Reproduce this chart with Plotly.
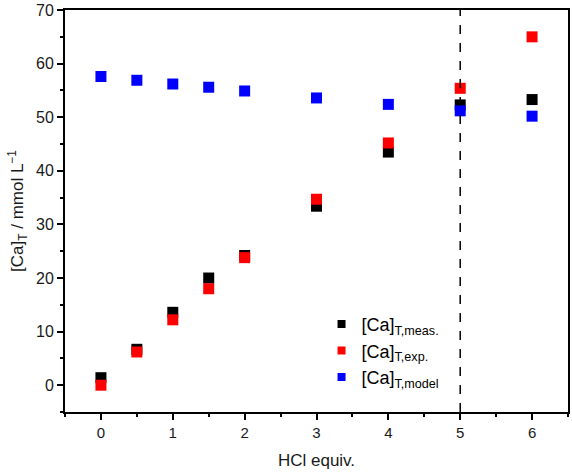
import plotly.graph_objects as go

hcl_equiv = [0, 0.5, 1, 1.5, 2, 3, 4, 5, 6]
ca_meas = [1.4, 6.7, 13.6, 20.0, 24.2, 33.4, 43.5, 52.3, 53.3]
ca_exp = [0.0, 6.2, 12.2, 18.0, 23.8, 34.7, 45.2, 55.4, 65.0]
ca_model = [57.6, 56.9, 56.2, 55.6, 54.9, 53.6, 52.4, 51.2, 50.2]
vline_x = 5

names = ["[Ca]<sub>T,meas.</sub>", "[Ca]<sub>T,exp.</sub>", "[Ca]<sub>T,model</sub>"]
colors = ["black", "#ff0000", "#0000ff"]

font = "Arial, Liberation Sans, sans-serif"

fig = go.Figure()
for ys, nm, c in zip([ca_meas, ca_exp, ca_model], names, colors):
    fig.add_trace(go.Scatter(x=hcl_equiv, y=ys, mode="markers",
                             marker=dict(symbol="square", size=11, color=c),
                             name=nm, showlegend=False))
# legend entries with smaller symbols
for nm, c in zip(names, colors):
    fig.add_trace(go.Scatter(x=[None], y=[None], mode="markers",
                             marker=dict(symbol="square", size=8, color=c),
                             name=nm, showlegend=True))

fig.add_vline(x=vline_x, line=dict(color="black", width=1.5, dash="dash"))

fig.update_layout(
    width=572, height=476,
    margin=dict(l=65, r=2, t=7, b=64),
    plot_bgcolor="white", paper_bgcolor="white",
    font=dict(family=font, size=15, color="#1a1a1a"),
    showlegend=True,
    legend=dict(x=0.51, y=0.04, xanchor="left", yanchor="bottom",
                bgcolor="rgba(0,0,0,0)", font=dict(size=18, color="black"),
                itemwidth=30, tracegroupgap=0),
)
fig.update_xaxes(range=[-0.5, 6.5], tickvals=[0, 1, 2, 3, 4, 5, 6],
                 ticks="outside", ticklen=6, tickwidth=1.5, tickcolor="black",
                 tickfont=dict(size=15),
                 minor=dict(dtick=0.5, tick0=0, ticks="outside", ticklen=3, tickcolor="black", tickwidth=1.5),
                 showline=True, linecolor="black", linewidth=2, mirror=True,
                 showgrid=False, zeroline=False,
                 title=dict(text="HCl equiv.", font=dict(size=17), standoff=14))
fig.update_yaxes(range=[-5, 70.01], tickvals=[0, 10, 20, 30, 40, 50, 60, 70],
                 ticks="outside", ticklen=6, tickwidth=1.5, tickcolor="black",
                 tickfont=dict(size=16), ticklabeloverflow="allow",
                 minor=dict(dtick=5, tick0=0, ticks="outside", ticklen=3, tickcolor="black", tickwidth=1.5),
                 showline=True, linecolor="black", linewidth=2, mirror=True,
                 showgrid=False, zeroline=False,
                 title=dict(text="[Ca]<sub>T</sub> / mmol L<sup>−1</sup>", font=dict(size=17), standoff=8))

fig.write_html("out.html")
